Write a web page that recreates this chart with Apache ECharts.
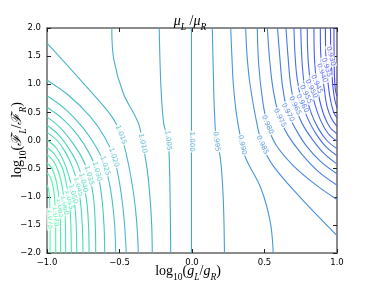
<!DOCTYPE html>
<html><head><meta charset="utf-8">
<script src="https://cdn.jsdelivr.net/npm/echarts@6/dist/echarts.min.js"></script>
<style>html,body{margin:0;padding:0;background:#fff}#c{width:374px;height:282px}</style>
</head><body><div id="c"></div>
<script>
// axis ticks
const xTicks = [-1.0, -0.5, 0.0, 0.5, 1.0];
const yTicks = [-2.0, -1.5, -1.0, -0.5, 0.0, 0.5, 1.0, 1.5, 2.0];

// contour levels and their lines (x = log10(gL/gR), y = log10(FL/FR))
const c1075 = [[-1,-0.79],[-0.99,-0.86],[-0.983,-1.0],[-0.980,-1.3],[-0.979,-1.7],[-0.979,-2]];
const c1070 = [[-1,-0.58],[-0.975,-0.66],[-0.958,-0.82],[-0.947,-1.05],[-0.942,-1.35],[-0.940,-1.7],[-0.940,-2]];
const c1065 = [[-1,-0.40],[-0.965,-0.5],[-0.94,-0.68],[-0.922,-0.92],[-0.911,-1.2],[-0.907,-1.55],[-0.906,-2]];
const c1060 = [[-1,-0.25],[-0.955,-0.37],[-0.92,-0.56],[-0.895,-0.82],[-0.879,-1.15],[-0.873,-1.5],[-0.871,-2]];
const c1055 = [[-1,-0.12],[-0.95,-0.24],[-0.9,-0.45],[-0.87,-0.72],[-0.848,-1.05],[-0.837,-1.4],[-0.832,-2]];
const c1050 = [[-1,0.01],[-0.94,-0.12],[-0.89,-0.34],[-0.85,-0.62],[-0.82,-0.95],[-0.803,-1.3],[-0.797,-1.65],[-0.795,-2]];
const c1045 = [[-1,0.145],[-0.93,0.0],[-0.87,-0.22],[-0.82,-0.5],[-0.785,-0.82],[-0.765,-1.2],[-0.755,-1.6],[-0.752,-2]];
const c1040 = [[-1,0.27],[-0.92,0.1],[-0.85,-0.14],[-0.79,-0.42],[-0.75,-0.75],[-0.725,-1.1],[-0.713,-1.55],[-0.710,-2]];
const c1035 = [[-1,0.42],[-0.91,0.23],[-0.83,-0.02],[-0.76,-0.3],[-0.71,-0.62],[-0.68,-1.0],[-0.667,-1.5],[-0.664,-2]];
const c1030 = [[-1,0.59],[-0.89,0.38],[-0.79,0.1],[-0.71,-0.22],[-0.655,-0.55],[-0.625,-0.95],[-0.607,-1.5],[-0.602,-2]];
const c1025 = [[-1,0.795],[-0.87,0.55],[-0.75,0.22],[-0.66,-0.12],[-0.60,-0.45],[-0.56,-0.9],[-0.535,-1.45],[-0.526,-2]];
const c1020 = [[-1,1.07],[-0.85,0.8],[-0.7,0.42],[-0.6,0.05],[-0.54,-0.3],[-0.5,-0.75],[-0.47,-1.35],[-0.453,-2]];
const c1015 = [[-1,1.73],[-0.75,1.02],[-0.56,0.45],[-0.49,0.10],[-0.44,-0.4],[-0.40,-1.0],[-0.38,-1.5],[-0.37,-2]];
const c1010 = [[-0.553,2],[-0.54,1.45],[-0.474,0.84],[-0.37,0.31],[-0.34,-0.05],[-0.31,-0.5],[-0.29,-1.0],[-0.278,-1.5],[-0.274,-2]];
const c1005 = [[-0.226,2],[-0.215,1.0],[-0.195,0.3],[-0.165,0.0],[-0.155,-0.5],[-0.150,-1.2],[-0.147,-2]];
const c1000 = [[-0.004,2],[-0.004,0],[-0.004,-2]];
const c0995 = [[0.140,2],[0.147,1.2],[0.155,0.5],[0.168,0.0],[0.195,-0.3],[0.215,-1.0],[0.224,-2]];
const c0990 = [[0.267,2],[0.275,1.5],[0.285,1.0],[0.305,0.5],[0.335,0.05],[0.37,-0.31],[0.474,-0.84],[0.54,-1.45],[0.560,-2]];
const c0985 = [[0.370,2],[0.38,1.5],[0.40,1.0],[0.44,0.4],[0.485,-0.08],[0.56,-0.45],[0.75,-1.02],[1,-1.69]];
const c0980 = [[0.45,2],[0.46,1.35],[0.485,0.75],[0.52,0.28],[0.58,-0.08],[0.70,-0.45],[0.85,-0.78],[1,-1.05]];
const c0975 = [[0.52,2],[0.535,1.45],[0.56,0.9],[0.605,0.4],[0.66,0.1],[0.75,-0.22],[0.87,-0.55],[1,-0.795]];
const c0970 = [[0.59,2],[0.605,1.5],[0.625,0.95],[0.66,0.5],[0.72,0.18],[0.79,-0.1],[0.89,-0.38],[1,-0.59]];
const c0965 = [[0.648,2],[0.662,1.5],[0.68,1.0],[0.71,0.62],[0.76,0.3],[0.83,0.02],[0.91,-0.23],[1,-0.42]];
const c0960 = [[0.703,2],[0.71,1.55],[0.725,1.1],[0.76,0.66],[0.80,0.38],[0.85,0.14],[0.92,-0.1],[1,-0.27]];
const c0955 = [[0.75,2],[0.755,1.6],[0.765,1.2],[0.785,0.82],[0.82,0.5],[0.87,0.22],[0.93,0.0],[1,-0.145]];
const c0950 = [[0.795,2],[0.797,1.65],[0.805,1.3],[0.823,0.92],[0.85,0.62],[0.89,0.34],[0.94,0.12],[1,-0.01]];
const c0945 = [[0.841,2],[0.842,1.7],[0.846,1.4],[0.86,1.0],[0.88,0.72],[0.91,0.45],[0.95,0.24],[1,0.12]];
const c0940 = [[0.885,2],[0.887,1.6],[0.897,1.2],[0.912,0.92],[0.93,0.62],[0.96,0.4],[1,0.25]];
const c0935 = [[0.92,2],[0.922,1.6],[0.928,1.3],[0.94,0.98],[0.955,0.72],[0.975,0.52],[1,0.40]];
const c0930 = [[0.955,2],[0.956,1.7],[0.958,1.5],[0.965,1.2],[0.972,0.95],[0.985,0.72],[1,0.58]];
const c0925 = [[0.979,2],[0.980,1.5],[0.983,1.1],[0.99,0.88],[1,0.79]];

const levels = [0.925,0.930,0.935,0.940,0.945,0.950,0.955,0.960,0.965,0.970,0.975,0.980,0.985,0.990,0.995,
                1.000,1.005,1.010,1.015,1.020,1.025,1.030,1.035,1.040,1.045,1.050,1.055,1.060,1.065,1.070,1.075];
const lines = [c0925,c0930,c0935,c0940,c0945,c0950,c0955,c0960,c0965,c0970,c0975,c0980,c0985,c0990,c0995,
               c1000,c1005,c1010,c1015,c1020,c1025,c1030,c1035,c1040,c1045,c1050,c1055,c1060,c1065,c1070,c1075];

// inline contour labels
const labelLevels = [1.075,1.070,1.065,1.060,1.055,1.050,1.045,1.040,1.035,1.030,1.025,1.020,1.015,1.010,1.005,1.000,
                     0.995,0.990,0.985,0.980,0.975,0.970,0.965,0.960,0.955,0.950,0.945,0.940,0.935,0.930];
const labelXs = [-0.980,-0.942,-0.911,-0.879,-0.848,-0.82,-0.785,-0.75,-0.71,-0.655,-0.60,-0.54,-0.49,-0.34,-0.165,-0.004,
                 0.168,0.345,0.485,0.52,0.605,0.66,0.71,0.76,0.785,0.823,0.86,0.897,0.928,0.958];
const labelYs = [-1.40,-1.35,-1.2,-1.15,-1.05,-0.95,-0.82,-0.75,-0.62,-0.55,-0.45,-0.3,0.10,-0.05,0.0,-0.02,
                 -0.02,-0.08,-0.08,0.28,0.4,0.5,0.62,0.66,0.82,0.92,1.0,1.2,1.3,1.5];
const labelAngles = [-88,-85,-82,-80,-78,-76,-74,-76,-74,-74,-72,-72,-68,-78,-84,-90,
                     -84,-78,-66,-66,-64,-62,-64,-62,-64,-64,-66,-70,-72,-75];

const lvMin = 0.925, lvMax = 1.075;
function winter(v) {
  const t = (v - lvMin) / (lvMax - lvMin);
  const g = 255 * t, b = 255 * (1 - 0.5 * t);
  const w = 0.28; // light anti-aliased look
  const mix = c => Math.round(c * (1 - w) + 255 * w);
  return 'rgb(' + mix(0) + ',' + mix(g) + ',' + mix(b) + ')';
}
const fmt = v => (Math.abs(v) < 1e-9 ? 0 : v).toFixed(1).replace('-', '\u2212');

const series = lines.map((pts, i) => ({
  type: 'line', data: pts, smooth: 0.35, showSymbol: false, symbol: 'none',
  lineStyle: { color: winter(levels[i]), width: 1.1 }, silent: true, z: 2, animation: false
}));
series.push({
  type: 'scatter', symbolSize: 1, itemStyle: { color: 'rgba(0,0,0,0)' }, z: 5, animation: false, silent: true,
  data: labelLevels.map((lv, i) => ({
    value: [labelXs[i], labelYs[i]], name: lv.toFixed(3),
    label: { rotate: labelAngles[i], color: winter(lv) }
  })),
  label: {
    show: true, position: 'inside', formatter: p => p.name, fontSize: 7,
    fontFamily: 'DejaVu Sans', backgroundColor: '#fff', padding: [0, 1, 0, 1]
  }
});

const serif = "'Liberation Serif','DejaVu Serif',serif";
const mathRich = {
  m: { fontFamily: serif, fontSize: 14, fontWeight: 'normal', fill: '#000', verticalAlign: 'top', lineHeight: 16 },
  i: { fontFamily: serif, fontSize: 14, fontWeight: 'normal', fontStyle: 'italic', fill: '#000', verticalAlign: 'top', lineHeight: 16 },
  s: { fontFamily: serif, fontSize: 9.5, fontWeight: 'normal', fill: '#000', verticalAlign: 'top', lineHeight: 10, padding: [8, 0, 0, 0] },
  si: { fontFamily: serif, fontSize: 9.5, fontWeight: 'normal', fontStyle: 'italic', fill: '#000', verticalAlign: 'top', lineHeight: 10, padding: [8, 0, 0, 0] }
};

const frame = { show: true, onZero: false, lineStyle: { color: '#666', width: 1.5 } };
const tick = { show: true, inside: true, length: 4, lineStyle: { color: '#222', width: 1 } };
const tickLbl = { fontFamily: 'DejaVu Sans', fontSize: 8.5, color: '#000', formatter: fmt };

const chart = echarts.init(document.getElementById('c'), null, { renderer: 'canvas' });
chart.setOption({
  animation: false,
  backgroundColor: '#fff',
  grid: { left: 47, right: 37, top: 28, bottom: 29, containLabel: false, outerBoundsMode: 'none' },
  xAxis: [
    { type: 'value', min: xTicks[0], max: xTicks[xTicks.length - 1], interval: 0.5, position: 'bottom',
      axisLine: frame, axisTick: tick, axisLabel: Object.assign({ margin: 5 }, tickLbl), splitLine: { show: false } },
    { type: 'value', min: xTicks[0], max: xTicks[xTicks.length - 1], interval: 0.5, position: 'top',
      axisLine: frame, axisTick: tick, axisLabel: { show: false }, splitLine: { show: false } }
  ],
  yAxis: [
    { type: 'value', min: yTicks[0], max: yTicks[yTicks.length - 1], interval: 0.5, position: 'left',
      axisLine: frame, axisTick: tick, axisLabel: Object.assign({ margin: 6 }, tickLbl), splitLine: { show: false } },
    { type: 'value', min: yTicks[0], max: yTicks[yTicks.length - 1], interval: 0.5, position: 'right',
      axisLine: frame, axisTick: tick, axisLabel: { show: false }, splitLine: { show: false } }
  ],
  graphic: [
    { type: 'text', x: 190, y: 22, style: { text: '{i|\u03bc}{si|L}{m| /}{i|\u03bc}{si|R}', rich: mathRich, align: 'center', verticalAlign: 'middle' }, z: 10 },
    { type: 'text', x: 188, y: 272, style: { text: '{m|log}{s|10}{m|(}{i|g}{si|L}{m|/}{i|g}{si|R}{m|)}', rich: mathRich, align: 'center', verticalAlign: 'middle' }, z: 10 },
    { type: 'text', x: 18, y: 140, rotation: Math.PI / 2, style: { text: '{m|log}{s|10}{m|(}{i|\u2131}{si|L}{m|/}{i|\u2131}{si|R}{m|)}', rich: mathRich, align: 'center', verticalAlign: 'middle' }, z: 10 }
  ],
  series: series
});
</script></body></html>
